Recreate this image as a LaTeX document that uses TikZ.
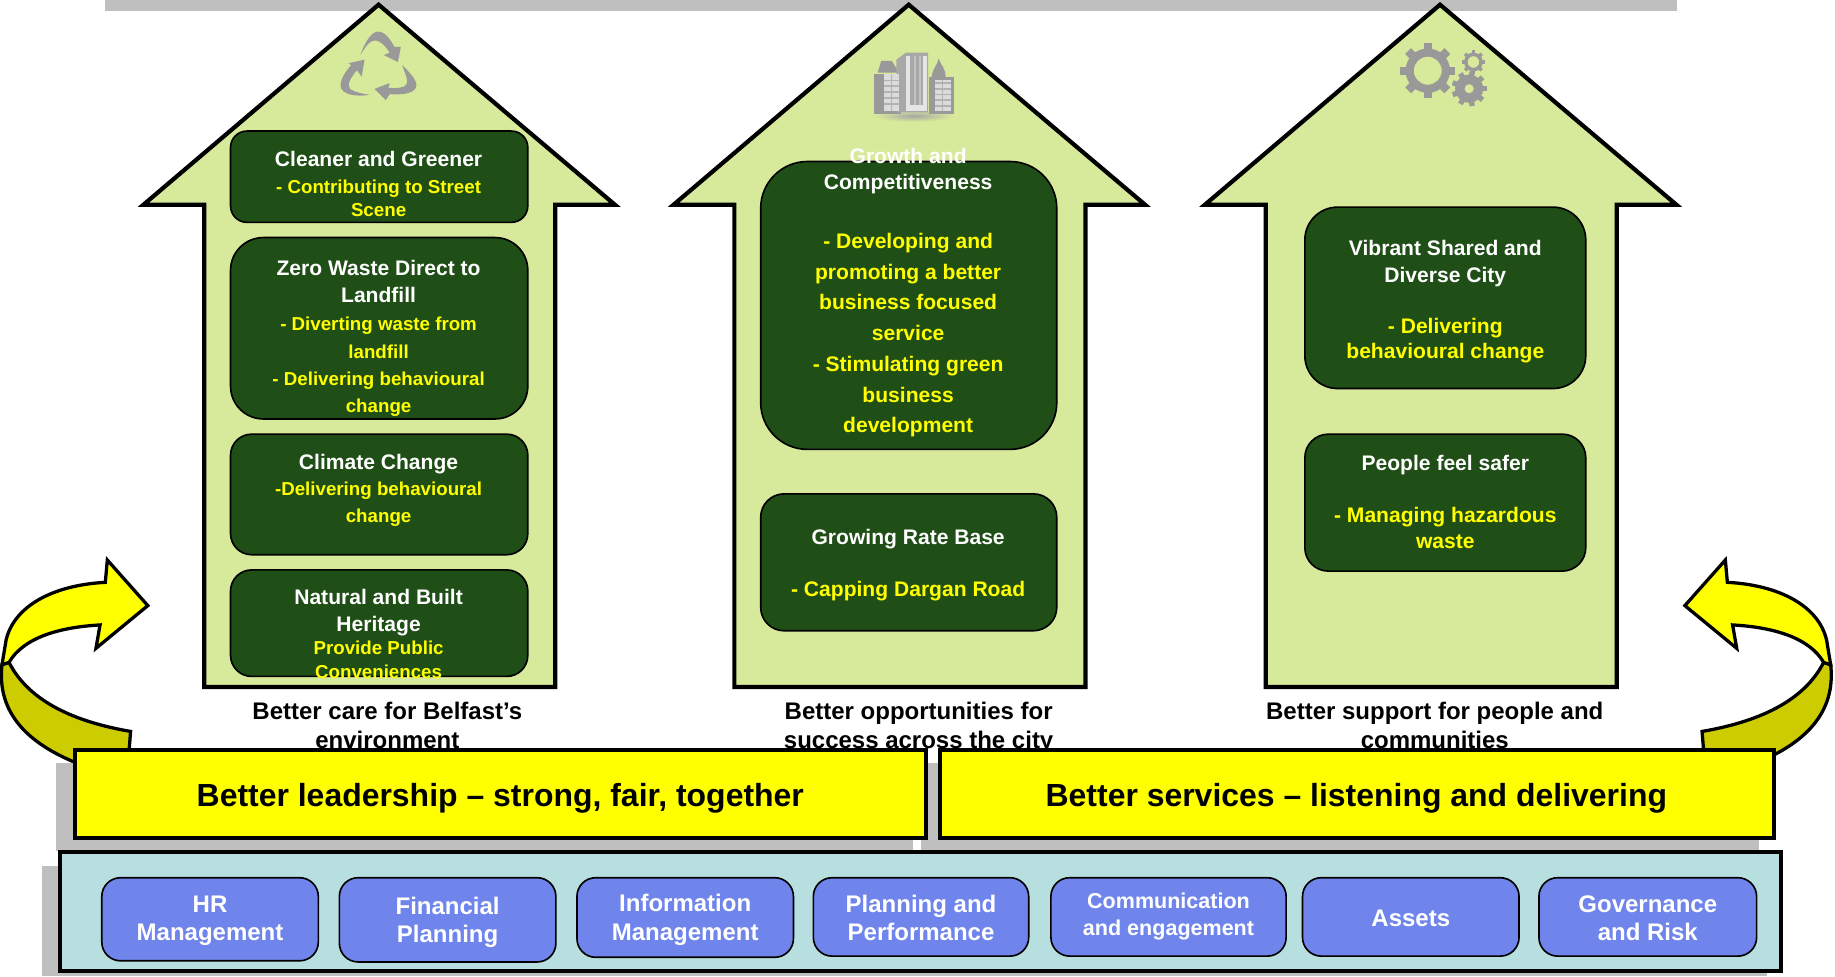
\documentclass[tikz,border=0pt]{standalone}
\usepackage{fontspec}
\setmainfont{Liberation Sans}
\definecolor{houseC}{HTML}{D7E99A}
\definecolor{greenC}{HTML}{1F4E17}
\definecolor{tealC}{HTML}{B7DFE0}
\definecolor{blueC}{HTML}{6F85EB}
\definecolor{greyC}{HTML}{BFBFBF}
\definecolor{iconC}{HTML}{999999}
\definecolor{darkyC}{HTML}{CCCC00}
\definecolor{yelC}{HTML}{FFFF00}
\newcommand{\panel}[7]{%
  \pgfmathsetmacro\pw{(#4-#2)/2}\pgfmathsetmacro\ph{(#5-#3)/2}\pgfmathsetmacro\pr{#6/2}%
  \pgfmathsetmacro\pcx{(#2+#4)/2}\pgfmathsetmacro\pcy{(#3+#5)/2}%
  \node[#7,minimum width=\pw pt,minimum height=\ph pt,rounded corners=\pr pt,inner sep=0pt,outer sep=0pt] (#1) at (\pcx,\pcy) {};}
\newcommand{\houseshape}[2]{% cx, name
  \draw[houseline] (#1,4) -- (#1+202,175) -- (#1+151,175) -- (#1+151,587) -- (#1-149,587) -- (#1-149,175) -- (#1-201,175) -- cycle;}
\newcommand{\tw}[1]{{\color{white}#1}}
\newcommand{\yw}[1]{{\color{yelC}#1}}
\newcommand{\yl}[1]{{\fontsize{8}{10}\selectfont\color{yelC}#1}}
\newcommand{\gear}[5]{% x,y,r,hole,teeth
  \fill[iconC,even odd rule] (#1,#2) circle[radius=#3*0.8] (#1,#2) circle[radius=#4];
  \foreach \a in {1,...,#5}{\fill[iconC,shift={(#1,#2)},rotate=\a*360/#5] (#3*0.7,-#3*0.15) rectangle (#3,#3*0.15);}}
\newcommand{\curvedarrow}{%
  \draw[arrowline,fill=darkyC] (7.7,566) .. controls (25,600) and (65,617) .. (111.6,625) -- (110,645) -- (63,651) .. controls (25,635) and (-3,610) .. (1.7,568) -- cycle;
  \draw[arrowline,fill=yelC] (1.7,568) -- (5.2,546.9) .. controls (12,518) and (45,500) .. (90,497.6) -- (91.7,478.5) -- (126.3,517.5) -- (82,554) -- (85.5,534) .. controls (50,536) and (20,545) .. (7.7,566) -- cycle;}
\tikzset{
  houseline/.style={draw=black,fill=houseC,line width=1.8pt,line join=miter},
  greenbox/.style={draw=black,fill=greenC,line width=0.7pt},
  bluebox/.style={draw=black,fill=blueC,line width=0.7pt},
  barbox/.style={draw=black,fill=yelC,line width=1.6pt},
  tealbox/.style={draw=black,fill=tealC,line width=1.6pt},
  arrowline/.style={draw=black,line width=1.4pt,line join=miter},
  boxtext/.style={align=center,font=\bfseries\fontsize{9}{10}\selectfont,inner sep=0pt},
  bluetext/.style={align=center,text=white,font=\bfseries\fontsize{10.25}{12}\selectfont,inner sep=0pt},
  captext/.style={align=center,text=black,font=\bfseries\fontsize{10.25}{12.5}\selectfont,inner sep=0pt},
  bartext/.style={text=black,font=\bfseries\fontsize{13.65}{16}\selectfont,inner sep=0pt},
}
\begin{document}
\begin{tikzpicture}[x=0.5pt,y=-0.5pt]
\useasboundingbox (0,0) rectangle (1568,834);
% grey backing
\fill[greyC] (90,0) rectangle (1433,9);
\curvedarrow
\begin{scope}[shift={(1566,0)},xscale=-1]\curvedarrow\end{scope}
\fill[greyC] (48,652) rectangle (780,727);
\fill[greyC] (787,652) rectangle (1503,727);
\fill[greyC] (780,652) rectangle (787,717);
\fill[greyC] (36,740) rectangle (1510,834);
% houses
\houseshape{323.5}{h1}
\houseshape{776.5}{h2}
\houseshape{1230.5}{h3}
% recycle icon
\fill[iconC] (308,47) .. controls (312,35) and (318,27) .. (323,27) .. controls (330,27) and (334,35) .. (337,40) -- (342.5,40) -- (340,53) -- (328,47) -- (333,45) .. controls (328,37) and (322,33) .. (318,35) .. controls (314,37) and (311,42) .. (308,47) -- cycle;
\fill[iconC] (315.7,81) .. controls (305,83) and (291,81) .. (291,73) .. controls (291,67) and (296,60) .. (300,56) -- (298,54) -- (311.5,51) -- (309,65.5) -- (305,60) .. controls (300,66) and (296,72) .. (299,76) .. controls (303,79) and (310,80) .. (315.7,81) -- cycle;
\fill[iconC] (343.6,55.5) .. controls (350,62) and (356,68) .. (355.8,73) .. controls (355,80) and (345,81) .. (333,80.5) -- (329.6,85.5) -- (320,76) -- (333,71) -- (332,75) .. controls (342,76) and (348,74) .. (348,70) .. controls (348,66) and (345,60) .. (343.6,55.5) -- cycle;
% buildings icon
\shade[inner color=gray!70,outer color=houseC] (781,99) ellipse[x radius=34,y radius=5];
\fill[iconC] (747,63) rectangle (770,97);
\fill[iconC] (750,62) -- (753,52) -- (762,52) -- (768,62) -- cycle;
\fill[iconC] (794,66) rectangle (815,97);
\fill[iconC] (796,66) .. controls (797,58) and (801,56) .. (802,50) .. controls (804,56) and (808,58) .. (808,66) -- cycle;
\fill[iconC!85] (766,51) -- (774,45) -- (793,45) -- (793,96) -- (766,96) -- cycle;
\fill[white!65!iconC] (755,63) rectangle (768,95);
\fill[white!65!iconC] (799,68) rectangle (813,95);
\fill[white!75!iconC] (774,48) rectangle (778,95);
\fill[white!75!iconC] (789,48) rectangle (792,95);
\fill[white!75!iconC] (778,90) rectangle (789,95);
\foreach \yy in {68,73,78,83,88}{\fill[iconC!75] (755,\yy) rectangle (768,\yy+1.5);\fill[iconC!75] (799,\yy+2) rectangle (813,\yy+3.5);}
\fill[iconC!75] (761,63) rectangle (762,95);
\fill[iconC!75] (805,68) rectangle (806,95);
\fill[iconC!60] (781,48) rectangle (783,90);\fill[iconC!60] (785,48) rectangle (787,90);
% gears
\gear{1220}{60.4}{23.7}{12}{8}
\gear{1259}{53}{10}{5}{8}
\gear{1255.4}{75.8}{15}{4}{9}
% green panels
\panel{g1}{197}{112}{451}{190}{14}{greenbox}
\panel{g2}{197}{203}{451}{358}{28}{greenbox}
\panel{g3}{197}{371}{451}{474}{18}{greenbox}
\panel{g4}{197}{487}{451}{578}{18}{greenbox}
\panel{m1}{650}{138}{903}{384}{40}{greenbox}
\panel{m2}{650}{422}{903}{539}{20}{greenbox}
\panel{r1}{1115}{177}{1355}{332}{28}{greenbox}
\panel{r2}{1115}{371}{1355}{488}{20}{greenbox}
\node[boxtext] (g1t) at (323.5,157) {\tw{Cleaner and Greener}\\[1.5pt]\yl{- Contributing to Street}\\\yl{Scene}};
\node[boxtext] (g2t) at (323.5,289) {\tw{Zero Waste Direct to}\\[1.5pt]\tw{Landfill}\\[2pt]\yl{- Diverting waste from}\\[2pt]\yl{landfill}\\[1.5pt]\yl{- Delivering behavioural}\\[1.5pt]\yl{change}};
\node[boxtext] (g3t) at (323.5,419) {\tw{Climate Change}\\[1.5pt]\yl{-Delivering behavioural}\\[1.5pt]\yl{change}};
\node[boxtext] (g4t) at (323.5,541.5) {\tw{Natural and Built}\\[1.5pt]\tw{Heritage}\\\yl{Provide Public}\\\yl{Conveniences}};
\node[boxtext] (m1t) at (776,250) {\tw{Growth and}\\[1pt]\tw{Competitiveness}\\[15.5pt]\yw{- Developing and}\\[3pt]\yw{promoting a better}\\[3pt]\yw{business focused}\\[3pt]\yw{service}\\[3.5pt]\yw{- Stimulating green}\\[3pt]\yw{business}\\[3pt]\yw{development}};
\node[boxtext] (m2t) at (776,483) {\tw{Growing Rate Base}\\[12.5pt]\yw{- Capping Dargan Road}};
\node[boxtext] (r1t) at (1235,258) {\tw{Vibrant Shared and}\\[1.5pt]\tw{Diverse City}\\[11.5pt]\yw{- Delivering}\\[1pt]\yw{behavioural change}};
\node[boxtext] (r2t) at (1235,429) {\tw{People feel safer}\\[12pt]\yw{- Managing hazardous}\\[1pt]\yw{waste}};
% captions
\node[captext] (c1) at (331,620) {Better care for Belfast’s\\environment};
\node[captext] (c2) at (785,622) {Better opportunities for\\success across the city};
\node[captext] (c3) at (1226,620) {Better support for people and\\communities};
% bars
\panel{b1}{64}{641}{791}{716}{0}{barbox}
\panel{b2}{803}{641}{1516}{716}{0}{barbox}
\node[bartext] (b1t) at (427.5,682) {Better leadership – strong, fair, together};
\node[bartext] (b2t) at (1159,682) {Better services – listening and delivering};
% teal band
\panel{t}{51}{728}{1522}{830}{0}{tealbox}
\panel{s1}{87}{750}{272}{821}{16}{bluebox}
\panel{s2}{290}{750}{475}{822}{16}{bluebox}
\panel{s3}{493}{750}{678}{818}{16}{bluebox}
\panel{s4}{695}{750}{879}{817}{16}{bluebox}
\panel{s5}{898}{750}{1099}{817}{16}{bluebox}
\panel{s6}{1113}{750}{1298}{817}{16}{bluebox}
\panel{s7}{1315}{750}{1501}{817}{16}{bluebox}
\node[bluetext] (s1t) at (179.5,787) {HR\\Management};
\node[bluetext] (s2t) at (382.5,788) {Financial\\Planning};
\node[bluetext] (s3t) at (585.5,786) {Information\\Management};
\node[bluetext] (s4t) at (787,784) {Planning and\\Performance};
\node[bluetext,font=\bfseries\fontsize{9.2}{11.5}\selectfont] (s5t) at (998.5,783.5) {Communication\\and engagement};
\node[bluetext] (s6t) at (1205.5,785) {Assets};
\node[bluetext] (s7t) at (1408,785) {Governance\\and Risk};
\end{tikzpicture}
\end{document}
